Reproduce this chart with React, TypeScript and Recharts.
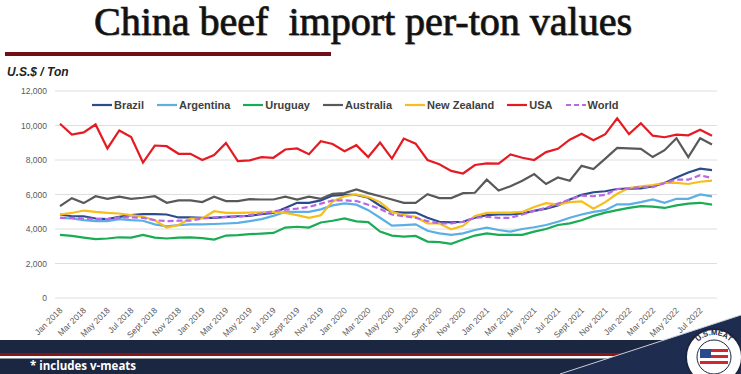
import { LineChart, Line, XAxis, YAxis, CartesianGrid, Legend } from 'recharts'

const MONTHS = [
  'Jan 2018', 'Feb 2018', 'Mar 2018', 'Apr 2018', 'May 2018', 'Jun 2018', 'Jul 2018', 'Aug 2018', 'Sept 2018', 'Oct 2018', 'Nov 2018', 'Dec 2018',
  'Jan 2019', 'Feb 2019', 'Mar 2019', 'Apr 2019', 'May 2019', 'Jun 2019', 'Jul 2019', 'Aug 2019', 'Sept 2019', 'Oct 2019', 'Nov 2019', 'Dec 2019',
  'Jan 2020', 'Feb 2020', 'Mar 2020', 'Apr 2020', 'May 2020', 'Jun 2020', 'Jul 2020', 'Aug 2020', 'Sept 2020', 'Oct 2020', 'Nov 2020', 'Dec 2020',
  'Jan 2021', 'Feb 2021', 'Mar 2021', 'Apr 2021', 'May 2021', 'Jun 2021', 'Jul 2021', 'Aug 2021', 'Sept 2021', 'Oct 2021', 'Nov 2021', 'Dec 2021',
  'Jan 2022', 'Feb 2022', 'Mar 2022', 'Apr 2022', 'May 2022', 'Jun 2022', 'Jul 2022', 'Aug 2022',
]

const BRAZIL = [
  4840, 4740, 4740, 4610, 4570, 4700, 4800, 4860, 4860, 4840, 4670, 4670, 4650, 4650, 4700, 4740, 4760, 4860, 4930, 5220,
  5520, 5520, 5660, 5940, 5980, 5980, 5810, 5350, 4990, 4950, 4950, 4650, 4420, 4380, 4420, 4650, 4800, 4840, 4840, 4900,
  5050, 5180, 5370, 5710, 5980, 6130, 6190, 6320, 6340, 6360, 6480, 6670, 6990, 7280, 7500, 7410,
]
const ARGENTINA = [
  4650, 4610, 4510, 4460, 4460, 4570, 4510, 4480, 4270, 4150, 4230, 4270, 4270, 4290, 4320, 4360, 4460, 4570, 4760, 4990,
  4990, 4990, 5140, 5370, 5490, 5410, 5090, 4650, 4190, 4230, 4270, 3900, 3750, 3660, 3750, 3940, 4080, 3940, 3850, 4000,
  4100, 4230, 4420, 4650, 4840, 4990, 5090, 5430, 5430, 5560, 5710, 5520, 5750, 5750, 6000, 5890,
]
const URUGUAY = [
  3660, 3600, 3500, 3410, 3450, 3520, 3500, 3660, 3500, 3450, 3500, 3520, 3470, 3390, 3620, 3640, 3700, 3730, 3770, 4080,
  4130, 4080, 4380, 4480, 4610, 4440, 4400, 3850, 3620, 3560, 3600, 3270, 3240, 3140, 3390, 3620, 3750, 3660, 3660, 3660,
  3850, 4000, 4230, 4330, 4510, 4760, 4950, 5090, 5220, 5330, 5300, 5220, 5370, 5470, 5520, 5410,
]
const AUSTRALIA = [
  5330, 5790, 5500, 5900, 5750, 5880, 5750, 5810, 5900, 5520, 5660, 5660, 5560, 5870, 5620, 5620, 5730, 5710, 5710, 5870,
  5710, 5880, 5750, 6040, 6080, 6290, 6080, 5900, 5710, 5520, 5520, 6020, 5790, 5790, 6080, 6100, 6860, 6230, 6480, 6800,
  7180, 6610, 6990, 6800, 7660, 7470, 8080, 8700, 8670, 8650, 8170, 8570, 9260, 8170, 9260, 8900,
]
const NEW_ZEALAND = [
  4840, 4930, 5070, 4990, 4930, 4900, 4800, 4700, 4510, 4080, 4230, 4610, 4610, 5030, 4930, 4930, 4950, 4970, 4990, 4930,
  4800, 4650, 4800, 5600, 5900, 6000, 5850, 5560, 4990, 4800, 4700, 4320, 4320, 3980, 4190, 4760, 4930, 4950, 4950, 4990,
  5280, 5500, 5410, 5560, 5600, 5180, 5560, 6040, 6380, 6480, 6550, 6670, 6670, 6610, 6740, 6800,
]
const USA = [
  10100, 9470, 9600, 10060, 8670, 9710, 9330, 7850, 8840, 8800, 8360, 8360, 8000, 8290, 8990, 7940, 7980, 8170, 8130, 8610,
  8670, 8340, 9090, 8930, 8510, 8860, 8170, 9010, 8080, 9240, 8950, 8000, 7750, 7370, 7220, 7710, 7800, 7790, 8320, 8130,
  8000, 8460, 8650, 9180, 9520, 9140, 9500, 10420, 9500, 10130, 9410, 9320, 9470, 9430, 9750, 9410,
]
const WORLD = [
  4650, 4650, 4610, 4570, 4570, 4670, 4670, 4650, 4510, 4460, 4480, 4480, 4610, 4670, 4690, 4700, 4800, 4900, 5030, 5120,
  5180, 5280, 5470, 5660, 5660, 5620, 5410, 5160, 4840, 4740, 4650, 4460, 4320, 4320, 4420, 4650, 4700, 4650, 4650, 4840,
  5050, 5220, 5470, 5710, 5940, 5900, 5980, 6320, 6360, 6420, 6420, 6670, 6860, 6860, 7120, 6950,
]

const Y_TICKS = [0, 2000, 4000, 6000, 8000, 10000, 12000]

const SERIES = [
  { key: 'Brazil', values: BRAZIL, color: '#2B4C8C', dashed: false },
  { key: 'Argentina', values: ARGENTINA, color: '#5BAEE6', dashed: false },
  { key: 'Uruguay', values: URUGUAY, color: '#1AAB55', dashed: false },
  { key: 'Australia', values: AUSTRALIA, color: '#595959', dashed: false },
  { key: 'New Zealand', values: NEW_ZEALAND, color: '#F6BE1A', dashed: false },
  { key: 'USA', values: USA, color: '#E41B23', dashed: false },
  { key: 'World', values: WORLD, color: '#B966E8', dashed: true },
]

const data = MONTHS.map((month, i) => {
  const row: Record<string, string | number> = { month }
  SERIES.forEach((s) => {
    row[s.key] = s.values[i]
  })
  return row
})

const NAVY = '#1B2640'

function MonthTick({ x, y, payload }: any) {
  return (
    <g transform={`translate(${x + 3},${y + 5})`}>
      <text
        textAnchor="end"
        transform="rotate(-45)"
        fontSize={8.5}
        fill="#595959"
        fontFamily="Liberation Sans, Arial, sans-serif"
      >
        {payload.value}
      </text>
    </g>
  )
}

function LegendRow() {
  return (
    <div style={{ display: 'flex', alignItems: 'center', whiteSpace: 'nowrap' }}>
      {SERIES.map((s) => (
        <div key={s.key} style={{ display: 'flex', alignItems: 'center', marginRight: 13 }}>
          <svg width={20} height={6} style={{ marginRight: 2 }}>
            <line
              x1={0}
              y1={3}
              x2={20}
              y2={3}
              stroke={s.color}
              strokeWidth={2.2}
              strokeDasharray={s.dashed ? '5 3' : undefined}
            />
          </svg>
          <span
            style={{
              fontFamily: 'Liberation Sans, Arial, sans-serif',
              fontWeight: 700,
              fontSize: 11,
              color: '#404040',
            }}
          >
            {s.key}
          </span>
        </div>
      ))}
    </div>
  )
}

export default function App() {
  return (
    <div
      style={{
        position: 'absolute',
        left: 0,
        top: 0,
        width: 741,
        height: 374,
        background: '#fff',
        overflow: 'hidden',
      }}
    >
      <div
        style={{
          position: 'absolute',
          top: 2,
          left: 0,
          width: 726,
          textAlign: 'center',
          fontFamily: 'Liberation Serif, Times New Roman, serif',
          fontSize: 40,
          lineHeight: '40px',
          color: '#111',
          WebkitTextStroke: '0.7px #111',
          textShadow: '1px 1px 1px rgba(0,0,0,0.25)',
          whiteSpace: 'pre',
        }}
      >
        {'China beef  import per-ton values'}
      </div>
      <div style={{ position: 'absolute', left: 5, top: 52, width: 326, height: 4, background: '#6E1016' }} />
      <div
        style={{
          position: 'absolute',
          left: 7,
          top: 65,
          fontFamily: 'Liberation Sans, Arial, sans-serif',
          fontStyle: 'italic',
          fontWeight: 700,
          fontSize: 12,
          color: '#222',
        }}
      >
        U.S.$ / Ton
      </div>

      <div style={{ position: 'absolute', left: 0, top: 80 }}>
        <LineChart width={741} height={262} data={data} margin={{ top: 11, right: 24, left: 10, bottom: 0 }}>
          <CartesianGrid vertical={false} stroke="#DEDEDE" />
          <XAxis
            dataKey="month"
            interval={1}
            height={44}
            tick={<MonthTick />}
            axisLine={false}
            tickLine={false}
            padding={{ left: 5, right: 5 }}
          />
          <YAxis
            domain={[0, 12000]}
            ticks={Y_TICKS}
            width={45}
            axisLine={false}
            tickLine={false}
            tickFormatter={(v: number) => v.toLocaleString('en-US')}
            tick={{ fontSize: 8.5, fill: '#595959', fontFamily: 'Liberation Sans, Arial, sans-serif' }}
          />
          <Legend
            verticalAlign="middle"
            align="center"
            layout="horizontal"
            wrapperStyle={{ top: 19, left: 92, width: 600 }}
            content={() => <LegendRow />}
          />
          {SERIES.map((s) => (
            <Line
              key={s.key}
              type="linear"
              dataKey={s.key}
              stroke={s.color}
              strokeWidth={2.2}
              strokeDasharray={s.dashed ? '6 3' : undefined}
              dot={false}
              activeDot={false}
              isAnimationActive={false}
            />
          ))}
        </LineChart>
      </div>

      <svg width={741} height={374} style={{ position: 'absolute', left: 0, top: 0, pointerEvents: 'none' }}>
        <defs>
          <path id="logoArc" d="M 692 357 A 22 22 0 0 1 736 357" />
        </defs>
        <rect x={0} y={340} width={741} height={34} fill={NAVY} />
        <rect x={0} y={353} width={640} height={3} fill="#8C1419" />
        <rect x={0} y={356} width={640} height={2.5} fill="#FFFFFF" />
        <polygon points="560,374 741,315 741,374" fill="#1E2C50" />
        <line x1={560} y1={374} x2={741} y2={315} stroke="#C9CED8" strokeWidth={1} />
        <text
          x={30}
          y={370}
          fill="#FFFFFF"
          fontSize={11.5}
          fontWeight={700}
          fontFamily="Open Sans, Liberation Sans, sans-serif"
        >
          * includes v-meats
        </text>
        <circle cx={714} cy={357} r={28} fill="#FFFFFF" stroke={NAVY} strokeWidth={2} />
        <circle cx={714} cy={357} r={17} fill="#FFFFFF" stroke={NAVY} strokeWidth={1} />
        <text fontSize={7.5} fontWeight={700} fill={NAVY} fontFamily="Liberation Sans, sans-serif">
          <textPath href="#logoArc" startOffset="50%" textAnchor="middle">
            U.S.MEAT
          </textPath>
        </text>
        <rect x={700} y={349} width={11} height={9} fill="#2A4A8E" />
        <rect x={711} y={349} width={17} height={3} fill="#D22630" />
        <rect x={711} y={355} width={17} height={3} fill="#D22630" />
        <rect x={700} y={361} width={28} height={3} fill="#D22630" />
      </svg>
    </div>
  )
}
